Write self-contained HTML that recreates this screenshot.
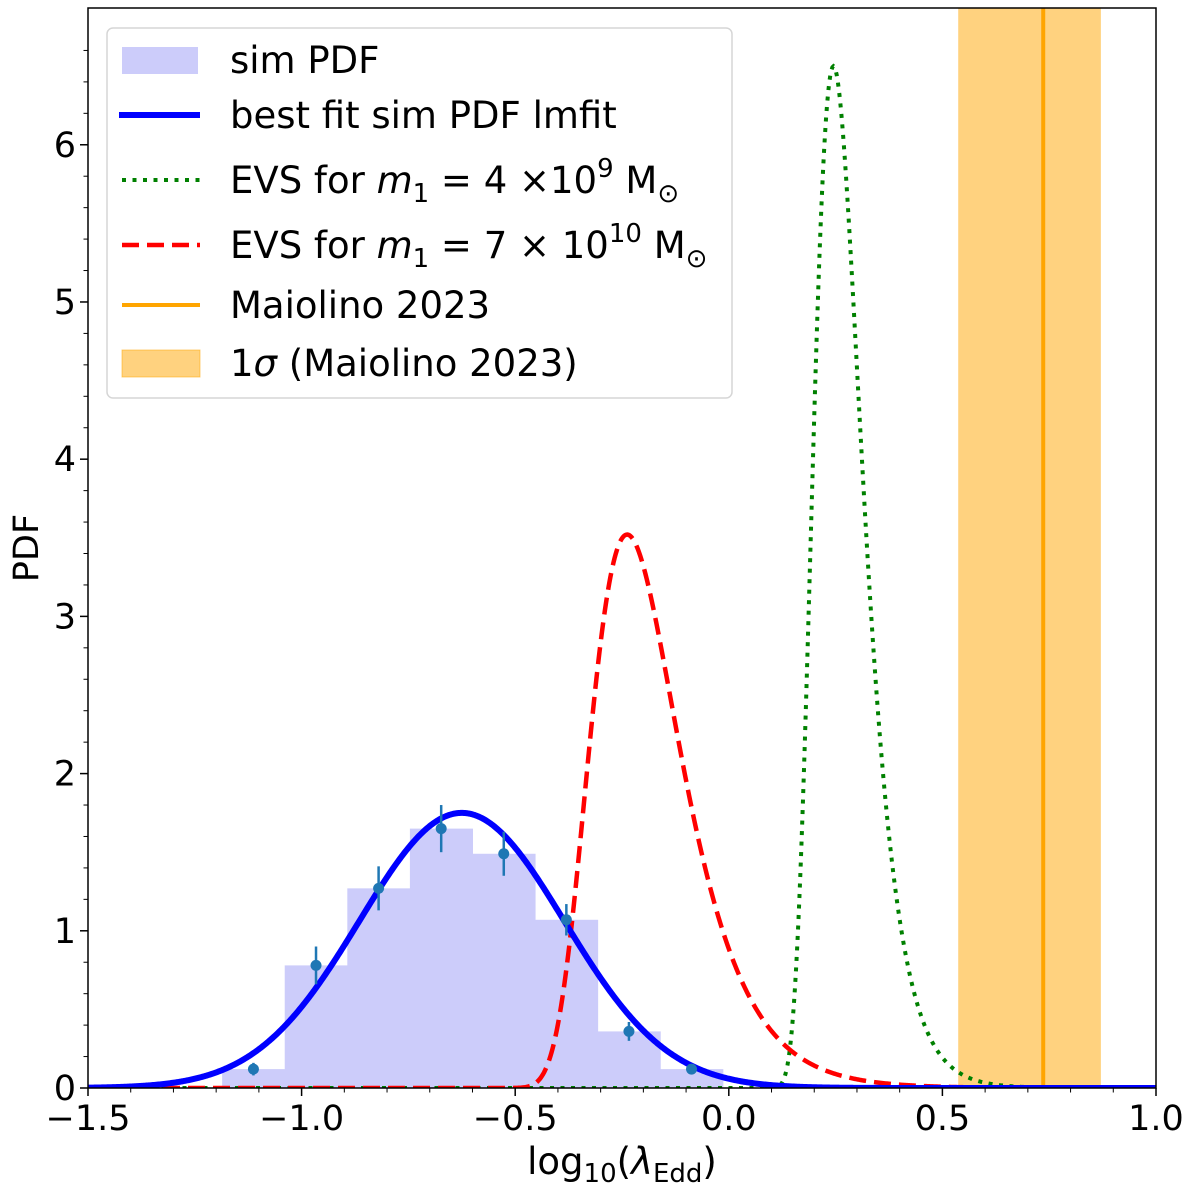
<!DOCTYPE html>
<html><head><meta charset="utf-8"><style>
body{margin:0;background:#fff}
svg{display:block;font-family:"DejaVu Sans","Liberation Sans",sans-serif}
</style></head><body>
<svg id="chart" width="1200" height="1192" viewBox="0 0 1200 1192">
<g id="plot"></g>
<text x="622" y="1174" font-size="37" text-anchor="middle">log<tspan font-size="26" dy="8">10</tspan><tspan dy="-8">(</tspan><tspan font-style="italic">λ</tspan><tspan font-size="26" dy="8">Edd</tspan><tspan dy="-8">)</tspan></text>
<text transform="translate(38,548) rotate(-90)" font-size="35" text-anchor="middle">PDF</text>
<g font-size="37">
<rect x="107" y="28" width="625" height="370" rx="6" fill="#fff" fill-opacity="0.85" stroke="#d6d6d6" stroke-width="1.5"/>
<rect x="122" y="47" width="76" height="27" fill="#ccccfa"/>
<text x="230" y="73">sim PDF</text>
<line x1="119" x2="200" y1="115" y2="115" stroke="blue" stroke-width="6"/>
<text x="230" y="128">best fit sim PDF lmfit</text>
<line x1="122" x2="200" y1="180" y2="180" stroke="green" stroke-width="4" stroke-dasharray="4 6.5"/>
<text x="230" y="193">EVS for <tspan font-style="italic">m</tspan><tspan font-size="26" dy="9">1</tspan><tspan dy="-9"> = 4 ×10</tspan><tspan font-size="26" dy="-16">9</tspan><tspan dy="16"> M</tspan><tspan font-size="26" dy="9">⊙</tspan></text>
<line x1="122" x2="200" y1="245" y2="245" stroke="red" stroke-width="4.5" stroke-dasharray="17 8"/>
<text x="230" y="258">EVS for <tspan font-style="italic">m</tspan><tspan font-size="26" dy="9">1</tspan><tspan dy="-9"> = 7 × 10</tspan><tspan font-size="26" dy="-16">10</tspan><tspan dy="16"> M</tspan><tspan font-size="26" dy="9">⊙</tspan></text>
<line x1="122" x2="200" y1="305" y2="305" stroke="#ffa500" stroke-width="4"/>
<text x="230" y="318">Maiolino 2023</text>
<rect x="122" y="350" width="78" height="27" fill="#ffa500" fill-opacity="0.5" stroke="#ffa500" stroke-opacity="0.5"/>
<text x="230" y="376">1<tspan font-style="italic">σ</tspan> (Maiolino 2023)</text>
</g>
</svg>
<script>
const histEdges0 = [-1.186];
const histWidth = [0.1465];
const histHeights = [0.12, 0.78, 1.27, 1.65, 1.49, 1.07, 0.36, 0.12];
const pointY = [0.12, 0.78, 1.27, 1.65, 1.49, 1.07, 0.36, 0.12];
const pointErr = [0.04, 0.12, 0.14, 0.15, 0.14, 0.1, 0.06, 0.03];
const gaussParams = [1.75, -0.625, 0.24];
const redEVS = [-0.238, 0.1045];
const greenEVS = [0.245, 0.0566];
const maiolino = [0.736];
const maiolinoBand = [0.537, 0.871];
const xTicks = [-1.5, -1.0, -0.5, 0.0, 0.5, 1.0];
const xTickLabels = ["\u22121.5", "\u22121.0", "\u22120.5", "0.0", "0.5", "1.0"];
const yTicks = [0, 1, 2, 3, 4, 5, 6];

const NS = "http://www.w3.org/2000/svg";
const L = 88, R = 1156, T = 8, B = 1088;
const xMin = -1.5, xMax = 1.0, yMin = 0, yMax = 6.87;
const X = v => L + (v - xMin) / (xMax - xMin) * (R - L);
const Y = v => B - (v - yMin) / (yMax - yMin) * (B - T);
const g = document.getElementById('plot');
function mk(tag, attrs, parent) {
  const e = document.createElementNS(NS, tag);
  for (const k in attrs) e.setAttribute(k, attrs[k]);
  (parent || g).appendChild(e);
  return e;
}
const defs = mk('defs', {});
const cp = mk('clipPath', {id: 'clip'}, defs);
mk('rect', {x: L, y: T, width: R - L, height: B - T}, cp);
const area = mk('g', {'clip-path': 'url(#clip)'});

let e = mk('rect', {x: X(maiolinoBand[0]), y: T, width: X(maiolinoBand[1]) - X(maiolinoBand[0]), height: B - T, fill: '#ffa500', 'fill-opacity': 0.5}, area);


histHeights.forEach((h, i) => {
  const x0 = histEdges0[0] + i * histWidth[0];
  const r = mk('rect', {x: X(x0), y: Y(h), width: X(x0 + histWidth[0]) - X(x0) + 0.5, height: Y(0) - Y(h), fill: '#ccccfa'}, area);
  
  
});
e = mk('line', {x1: X(maiolino[0]), x2: X(maiolino[0]), y1: T, y2: B, stroke: '#ffa500', 'stroke-width': 4}, area);



function curve(fn, attrs, name) {
  let d = '';
  for (let i = 0; i <= 1000; i++) {
    const x = xMin + (xMax - xMin) * i / 1000;
    d += (i ? 'L' : 'M') + X(x).toFixed(2) + ',' + Y(fn(x)).toFixed(2);
  }
  const p = mk('path', Object.assign({d: d, fill: 'none'}, attrs), area);
  
  
}
const gumbel = (p) => x => { const z = (x - p[0]) / p[1]; return Math.exp(-(z + Math.exp(-z))) / p[1]; };
curve(gumbel(greenEVS), {stroke: 'green', 'stroke-width': 4, 'stroke-dasharray': '4 6.5'}, 'evs-green-curve');
curve(gumbel(redEVS), {stroke: 'red', 'stroke-width': 4.5, 'stroke-dasharray': '17 8'}, 'evs-red-curve');
curve(x => gaussParams[0] * Math.exp(-Math.pow(x - gaussParams[1], 2) / (2 * gaussParams[2] * gaussParams[2])), {stroke: 'blue', 'stroke-width': 6}, 'best-fit-curve');
pointY.forEach((v, i) => {
  const xc = histEdges0[0] + (i + 0.5) * histWidth[0];
  const l = mk('line', {x1: X(xc), x2: X(xc), y1: Y(v - pointErr[i]), y2: Y(v + pointErr[i]), stroke: '#1f77b4', 'stroke-width': 2.5}, area);
  
  
  const c = mk('circle', {cx: X(xc), cy: Y(v), r: 5.5, fill: '#1f77b4'}, area);
  
  
});
e = mk('rect', {x: L, y: T, width: R - L, height: B - T, fill: 'none', stroke: '#000', 'stroke-width': 1.5});


xTicks.forEach((t, i) => {
  mk('line', {x1: X(t), x2: X(t), y1: B, y2: B + 8, stroke: '#000', 'stroke-width': 1.5});
  const tx = mk('text', {x: X(t), y: B + 42, 'font-size': 35, 'text-anchor': 'middle'});
  tx.textContent = xTickLabels[i];
  
  
});
for (let v = -1.4; v < 1.0; v += 0.1) {
  if (Math.abs(v * 2 - Math.round(v * 2)) < 1e-6) continue;
  mk('line', {x1: X(v), x2: X(v), y1: B, y2: B + 4.5, stroke: '#000', 'stroke-width': 1});
}
yTicks.forEach(t => {
  mk('line', {x1: L - 8, x2: L, y1: Y(t), y2: Y(t), stroke: '#000', 'stroke-width': 1.5});
  const tx = mk('text', {x: L - 12, y: Y(t) + 12, 'font-size': 35, 'text-anchor': 'end'});
  tx.textContent = t;
  
  
});
for (let v = 0.2; v < 6.8; v += 0.2) {
  if (Math.abs(v - Math.round(v)) < 1e-6) continue;
  mk('line', {x1: L - 4.5, x2: L, y1: Y(v), y2: Y(v), stroke: '#000', 'stroke-width': 1});
}
</script>
</body></html>
